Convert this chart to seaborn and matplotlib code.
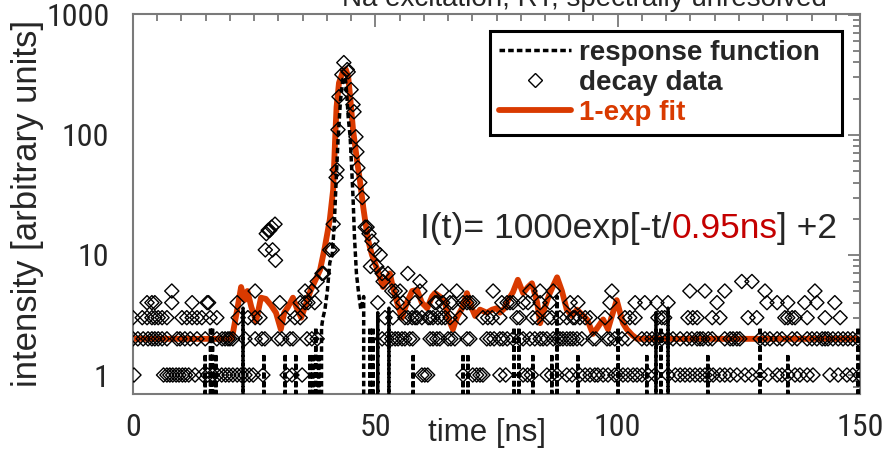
import numpy as np
import pandas as pd
import matplotlib
matplotlib.use("Agg")
import matplotlib.pyplot as plt
import seaborn as sns
from matplotlib import font_manager as fm
from matplotlib.lines import Line2D
from matplotlib.ticker import FixedLocator, MultipleLocator, LogLocator, NullFormatter

# ---------------- data ----------------
# decay data: channel times [ns] grouped by photon count
t_n1 = [0.2, 6.3, 7.0, 7.6, 8.2, 8.9, 9.5, 10.2, 10.8, 11.5, 12.8, 14.4, 15.4, 16.4, 17.4, 18.3,
        19.1, 19.8, 20.6, 21.5, 22.3, 23.1, 24.0, 24.8, 26.8, 31.8, 32.8, 34.9, 59.6, 60.2, 60.8,
        68.1, 70.1, 70.9, 71.6, 72.2, 75.7, 76.9, 80.5, 81.4, 82.2, 85.4, 86.4, 87.5, 89.5, 90.6,
        92.2, 93.3, 94.3, 95.3, 95.9, 97.0, 98.0, 99.4, 100.1, 101.1, 102.1, 103.2, 104.0, 105.0,
        106.3, 107.7, 110.4, 111.9, 112.9, 113.9, 114.9, 116.0, 117.0, 118.0, 119.0, 119.7, 121.1,
        122.1, 123.2, 124.6, 126.3, 127.7, 129.4, 131.0, 132.9, 133.9, 135.1, 136.6, 137.6, 139.1,
        140.3, 143.8, 145.5, 147.3, 148.5, 150.0]
t_n2 = [0.0, 1.0, 2.1, 3.1, 3.9, 4.5, 5.2, 6.0, 7.0, 9.1, 9.7, 10.7, 11.8, 13.2, 14.9, 17.3, 18.4,
        19.0, 19.6, 20.0, 20.6, 23.1, 25.2, 26.6, 27.2, 29.9, 30.7, 32.4, 33.0, 35.9, 36.9, 38.0,
        51.4, 52.4, 53.4, 54.1, 54.7, 55.5, 56.1, 57.1, 57.7, 61.3, 61.9, 62.7, 63.3, 65.0, 65.6,
        66.4, 68.9, 69.5, 73.0, 73.7, 74.5, 75.7, 76.3, 77.2, 78.4, 79.8, 80.5, 81.9, 82.9, 84.0,
        84.6, 85.4, 86.7, 87.5, 88.1, 88.7, 89.5, 90.2, 90.8, 91.6, 92.6, 94.9, 95.5, 97.8, 98.4,
        99.4, 100.9, 102.1, 105.0, 106.0, 107.1, 108.1, 109.1, 110.4, 111.4, 112.9, 114.3, 115.3,
        116.4, 117.0, 117.6, 118.7, 119.5, 122.1, 123.2, 123.8, 124.6, 125.2, 129.4, 130.4, 131.4,
        132.9, 133.9, 136.0, 137.0, 139.1, 140.1, 141.1, 142.2, 142.8, 143.4, 144.4, 145.5, 146.5,
        147.5, 148.5, 149.6]
t_n3 = [0.0, 1.9, 2.9, 3.9, 4.5, 5.2, 6.0, 7.0, 10.1, 11.1, 12.2, 13.2, 14.2, 15.9, 17.3, 21.7,
        23.7, 25.2, 26.2, 31.4, 33.4, 34.5, 52.0, 53.6, 56.1, 56.7, 57.6, 58.2, 58.6, 59.6, 60.9,
        61.3, 61.9, 62.9, 63.7, 64.4, 65.4, 67.5, 72.2, 73.2, 74.1, 75.7, 79.2, 79.8, 82.5, 83.4,
        85.6, 86.4, 88.1, 89.5, 90.8, 91.2, 92.2, 93.3, 94.3, 97.4, 101.5, 102.5, 103.6, 108.3,
        109.1, 109.7, 114.5, 115.5, 116.4, 119.5, 121.1, 126.9, 128.7, 134.5, 135.1, 136.0, 136.6,
        139.1, 142.8, 145.9]
t_n4 = [2.9, 3.9, 4.5, 8.0, 12.2, 15.3, 15.6, 21.5, 30.3, 34.5, 35.5, 36.1, 37.5, 50.5, 54.5,
        55.7, 58.2, 62.3, 62.7, 63.9, 65.4, 66.0, 68.1, 68.9, 69.5, 70.1, 76.1, 77.2, 77.8, 78.4,
        80.5, 81.5, 84.0, 86.0, 90.2, 91.8, 98.4, 103.6, 105.6, 108.1, 110.4, 120.5, 130.8, 132.9,
        135.1, 138.6, 141.1, 144.8]
t_n5 = [8.0, 25.2, 35.5, 36.9, 53.4, 54.1, 55.1, 59.2, 63.7, 66.8, 74.3, 81.9, 84.0, 86.7, 98.8,
        114.9, 118.0, 122.1, 130.4, 140.7]
t_n6 = [38.0, 51.6, 59.2, 125.6, 127.7]
# higher counts (artefact near 28 ns and the main peak)
peak_t = [27.3, 27.5, 27.9, 28.2, 28.6, 28.8, 29.3, 29.4, 39.0, 39.3, 40.6, 41.1, 41.3, 41.9,
          42.1, 42.3, 42.5, 43.1, 43.5, 44.2, 44.4, 45.0, 45.4, 45.6, 46.0, 46.2, 46.4, 46.8,
          47.3, 47.9, 48.3, 48.7, 49.0, 49.3, 49.9, 50.3, 51.0, 51.4, 52.6, 56.7]
peak_n = [11, 15, 16, 16, 17, 11, 18, 9, 7, 7, 11, 11, 18, 44, 51, 110, 207, 316, 398, 348, 333,
          237, 178, 155, 96, 72, 53, 40, 30, 17, 17, 15, 8, 13, 11, 8, 10, 7, 7, 7]

# response function (zero between the sparse counts)
irf_t = [0.0, 14.6, 14.9, 15.2, 15.8, 16.0, 16.2, 16.4, 16.8, 17.1, 17.4, 22.4, 22.7, 23.0,
         26.7, 27.0, 27.3, 31.1, 31.4, 31.7, 33.3, 33.6, 33.9, 36.2, 36.5, 36.8, 37.1, 37.4,
         37.7, 38.0, 38.3, 38.6, 38.9, 39.2, 39.6, 40.1, 40.6, 41.1, 41.5, 41.9, 42.3, 42.8,
         43.3, 43.8, 44.1, 44.4, 44.8, 45.1, 45.4, 45.7, 46.1, 46.5, 47.0, 47.6, 47.9, 48.6,
         48.9, 49.2, 49.5, 49.8, 50.2, 50.5, 50.8, 52.5, 52.8, 53.1, 57.5, 57.8, 58.1, 67.8,
         68.1, 68.4, 68.8, 69.1, 69.4, 78.3, 78.6, 78.9, 79.3, 79.6, 79.9, 82.2, 82.5, 82.8,
         86.1, 86.4, 86.7, 87.2, 87.5, 87.8, 91.5, 91.8, 92.1, 99.8, 100.1, 100.4, 105.7, 106.0,
         106.3, 107.6, 107.9, 108.2, 108.6, 108.9, 109.2, 110.1, 110.4, 110.7, 118.3, 118.6,
         118.9, 129.1, 129.4, 129.7, 134.8, 135.1, 135.4, 149.3, 149.6, 149.9, 150.0]
irf_v = [0, 0, 1.5, 0, 0, 2.5, 0, 2.5, 0, 1.5, 0, 0, 3.6, 0,
         0, 1.5, 0, 0, 1.5, 0, 0, 1.5, 0, 0, 1.5, 0, 1.5, 0,
         2.5, 0, 1.5, 0, 2.5, 3.0, 3.5, 5.0, 8.6, 10, 17, 40, 90, 190,
         290, 300, 220, 140, 96, 55, 30, 14, 7, 5, 3.5, 4.5, 0, 0,
         2.5, 0, 2.5, 0, 0, 3.3, 0, 0, 3.6, 0, 0, 1.5, 0, 0,
         1.5, 0, 0, 1.5, 0, 0, 2.5, 0, 0, 2.5, 0, 0, 1.5, 0,
         0, 1.5, 0, 0, 4.5, 0, 0, 1.5, 0, 0, 2.5, 0, 0, 1.5,
         0, 0, 3.3, 0, 0, 2.5, 0, 0, 3.6, 0, 0, 1.5,
         0, 0, 2.5, 0, 0, 1.5, 0, 0, 2.5, 0, 0]

# mono-exponential fit convolved with the response
fit_t = [0.0, 20.4, 21.5, 22.3, 23.0, 23.6, 24.4, 25.4, 26.4, 27.4, 28.5, 29.5, 30.5, 31.2, 32.0,
         33.0, 33.8, 34.7, 35.6, 36.6, 37.5, 38.6, 39.6, 40.6, 41.3, 41.7, 42.0, 42.5, 43.3, 43.9,
         44.4, 44.8, 45.4, 46.2, 46.8, 47.5, 48.1, 48.5, 49.3, 49.9, 50.7, 51.6, 52.4, 53.0, 53.6,
         54.5, 55.5, 56.5, 57.6, 58.6, 59.6, 60.7, 61.7, 62.3, 63.3, 64.4, 65.0, 66.0, 66.8, 67.9,
         68.9, 69.9, 70.6, 71.6, 73.0, 74.1, 75.1, 75.7, 76.7, 77.4, 78.4, 79.4, 80.5, 81.5, 82.3,
         83.4, 84.0, 85.0, 86.0, 87.5, 88.5, 89.5, 90.6, 91.6, 92.6, 93.7, 94.9, 95.9, 97.0, 98.0,
         98.7, 99.4, 99.8, 100.5, 101.1, 101.9, 103.0, 104.0, 150.0]
fit_v = [2.0, 2.0, 3.5, 5.4, 4.2, 5.0, 3.7, 2.8, 4.4, 4.3, 3.8, 3.3, 2.4, 3.3, 3.7,
         4.4, 3.6, 3.0, 3.8, 5.0, 6.0, 7.5, 11.7, 19.6, 35, 91, 170, 270, 333, 350,
         304, 207, 110, 62, 42, 25, 17, 13.3, 10, 8.6, 7.0, 5.4, 6.2, 7.0, 5.4,
         4.0, 3.0, 4.0, 5.0, 5.1, 4.0, 3.6, 4.5, 4.8, 4.5, 4.0, 3.0, 2.4, 3.0, 3.6,
         4.8, 3.6, 3.1, 3.5, 3.3, 3.5, 3.6, 3.3, 3.6, 4.2, 4.9, 6.2, 4.8, 5.4, 5.8,
         4.0, 2.7, 3.7, 4.8, 6.5, 5.0, 3.5, 3.1, 3.5, 3.2, 2.9, 2.2, 2.5, 2.9, 2.4,
         3.0, 3.7, 4.2, 3.3, 2.7, 2.4, 2.15, 2.0, 2.0]

x_ticks = [0, 50, 100, 150]
x_tick_labels = ["0", "50", "100", "150"]
y_ticks = [1, 10, 100, 1000]
y_tick_labels = ["1", "10", "100", "1000"]
legend_labels = ["response function", "decay data", "1-exp fit"]

# ---------------- build tables ----------------
levels = [(t_n1, 1), (t_n2, 2), (t_n3, 3), (t_n4, 4), (t_n5, 5), (t_n6, 6)]
decay = pd.concat(
    [pd.DataFrame({"t": ts, "n": [n] * len(ts)}) for ts, n in levels]
    + [pd.DataFrame({"t": peak_t, "n": peak_n})],
    ignore_index=True)
irf = pd.DataFrame({"t": irf_t, "v": irf_v})
fit = pd.DataFrame({"t": fit_t, "v": fit_v})

# ---------------- style ----------------
sns.set_style("white")
plt.rcParams["font.family"] = ["Liberation Sans", "DejaVu Sans"]


def narrow_font():
    """Pick an installed condensed/narrow sans face for the tick labels, if any."""
    cands = []
    for f in fm.fontManager.ttflist:
        st = f.stretch
        is_narrow = ("Narrow" in f.name or "Condensed" in f.name
                     or "Narrow" in f.fname or "Condensed" in f.fname
                     or st in ("condensed", "semi-condensed", "extra-condensed",
                               "ultra-condensed")
                     or (isinstance(st, (int, float)) and st < 500))
        w = f.weight
        regular = w in (400, "normal", "regular", "book") or str(w) == "400"
        low = f.fname.lower()
        if is_narrow and f.style == "normal" and regular and "bold" not in low \
                and "light" not in low and "thin" not in low and "black" not in low \
                and "medium" not in low and "mono" not in low and "serif" not in f.name.lower():
            cands.append(f)
    order = ["Liberation Sans Narrow", "Roboto Condensed", "Open Sans", "Noto Sans",
             "DejaVu Sans", "Lato", "Inter"]
    cands.sort(key=lambda f: next((i for i, n in enumerate(order) if f.name.startswith(n)), 99))
    return cands[0].fname if cands else None


narrow_path = narrow_font()

ORANGE = "#d93a00"
RED = "#c40000"
GRAY = "#7a7a7a"
DASH = (0, (1.6, 0.9))

fig = plt.figure(figsize=(8.84, 4.55), dpi=100)
ax = fig.add_axes([133 / 884, 1 - 394 / 455, 727 / 884, 380 / 455])

sns.lineplot(data=fit, x="t", y="v", ax=ax, color=ORANGE, lw=4.2, sort=False,
             estimator=None, zorder=2)
sns.scatterplot(data=decay, x="t", y="n", ax=ax, marker="D", s=52, zorder=3)
coll = ax.collections[-1]
coll.set_facecolor("none")
coll.set_edgecolor("black")
coll.set_linewidth(1.0)
sns.lineplot(data=irf, x="t", y="v", ax=ax, color="black", lw=2.5, sort=False,
             estimator=None, zorder=4)
ax.get_lines()[-1].set_linestyle(DASH)

ax.set_yscale("log")
ax.set_xlim(0, 150)
ax.set_ylim(0.695, 1010)

ax.xaxis.set_major_locator(FixedLocator(x_ticks))
ax.set_xticklabels(x_tick_labels)
ax.xaxis.set_minor_locator(MultipleLocator(5))
ax.yaxis.set_major_locator(FixedLocator(y_ticks))
ax.set_yticklabels(y_tick_labels)
ax.yaxis.set_minor_locator(LogLocator(base=10, subs=np.arange(2, 10)))
ax.yaxis.set_minor_formatter(NullFormatter())
if narrow_path:
    tick_fp = fm.FontProperties(fname=narrow_path, size=23)
else:
    tick_fp = fm.FontProperties(family="Liberation Sans", size=20)
for lab in ax.get_xticklabels() + ax.get_yticklabels():
    lab.set_fontproperties(tick_fp)

ax.tick_params(which="both", direction="in", top=True, right=True, color=GRAY, width=1.3)
ax.tick_params(which="major", length=9)
ax.tick_params(which="minor", length=5)
ax.tick_params(axis="x", pad=14)
ax.tick_params(axis="y", pad=17)
for sp in ax.spines.values():
    sp.set_color(GRAY)
    sp.set_linewidth(1.5)

ax.set_xlabel("")
ax.set_ylabel("")
fig.text(487 / 884, 1 - 433 / 455, "time [ns]", fontsize=22.5, ha="center", va="center")
fig.text(28 / 884, 1 - 203 / 455, "intensity [arbitrary units]", fontsize=25, rotation=90,
         ha="center", va="center")
fig.text(584 / 884, 1 - 6 / 455, "Na excitation, RT, spectrally unresolved", fontsize=20,
         ha="center", va="baseline")

# fit formula with coloured lifetime
t1 = fig.text(420 / 884, 1 - 238 / 455, "I(t)= 1000exp[-t/", fontsize=25.5, va="baseline")
t2 = ax.annotate("0.95ns", xy=(1, 0), xycoords=t1, va="bottom", ha="left", fontsize=25.5,
                 color=RED)
t3 = ax.annotate("] +2", xy=(1, 0), xycoords=t2, va="bottom", ha="left", fontsize=25.5)

# legend
h1 = Line2D([], [], color="black", lw=2.5, linestyle=DASH)
h2 = Line2D([], [], marker="D", ls="none", mfc="none", mec="black", ms=7.2, mew=1.0)
h3 = Line2D([], [], color=ORANGE, lw=4.2)
leg = ax.legend([h1, h2, h3], legend_labels, loc="upper left", mode="expand",
                bbox_to_anchor=(490 / 884, 1 - 133 / 455, 352 / 884, 102 / 455),
                bbox_transform=fig.transFigure,
                prop=dict(weight="bold", size=20, family="Liberation Sans"), frameon=True,
                fancybox=False, edgecolor="black", framealpha=1, handlelength=2.6,
                handletextpad=0.3, labelspacing=0.14, borderpad=0.32, borderaxespad=0)
leg.get_frame().set_linewidth(2.2)
leg.get_texts()[2].set_color(ORANGE)

fig.savefig("out.png", dpi=100)
